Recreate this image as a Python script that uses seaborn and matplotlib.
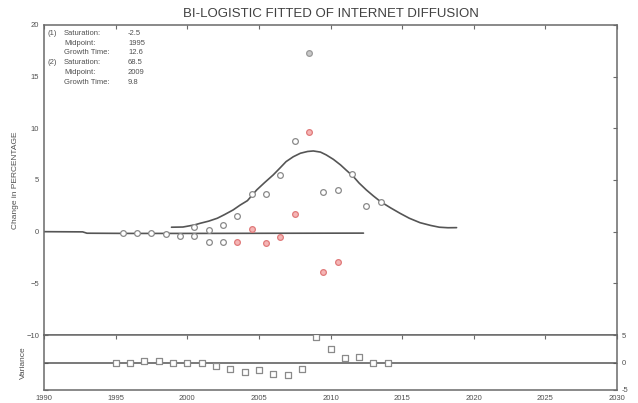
import matplotlib
matplotlib.use("Agg")
import matplotlib.pyplot as plt
import seaborn as sns
import pandas as pd

# ---------------- data ----------------
upper_years = [2000.5, 2001.5, 2002.5, 2003.5, 2004.5, 2005.5, 2006.5, 2007.5,
               2008.5, 2009.5, 2010.5, 2011.5, 2012.5, 2013.5]
upper_vals = [0.48, 0.16, 0.65, 1.55, 3.65, 3.65, 5.49, 8.81,
              17.33, 3.81, 4.04, 5.59, 2.52, 2.90]
upper_flag = ["open"] * 8 + ["filled"] + ["open"] * 5

lower_years = [1995.5, 1996.5, 1997.5, 1998.5, 1999.5, 2000.5, 2001.5, 2002.5]
lower_vals = [-0.13, -0.13, -0.17, -0.25, -0.39, -0.39, -0.97, -0.97]

red_years = [2003.5, 2004.5, 2005.5, 2006.5, 2007.5, 2008.5, 2009.5, 2010.5]
red_vals = [-0.97, 0.23, -1.12, -0.54, 1.71, 9.62, -3.87, -2.90]

fit2_years = [1998.9, 1999.7, 2000.5, 2000.9, 2001.5, 2002.1, 2002.6, 2003.2,
              2003.7, 2004.2, 2004.85, 2005.4, 2006.0, 2006.5, 2006.9, 2007.4,
              2007.9, 2008.4, 2008.8, 2009.3, 2009.7, 2010.2, 2010.7, 2011.1,
              2011.6, 2012.0, 2012.5, 2013.0, 2013.5, 2014.2, 2014.85, 2015.5,
              2016.25, 2017.0, 2017.6, 2018.2, 2018.8]
fit2_vals = [0.43, 0.45, 0.65, 0.81, 1.02, 1.30, 1.65, 2.10,
             2.58, 3.00, 4.04, 4.75, 5.49, 6.20, 6.78, 7.25,
             7.59, 7.76, 7.81, 7.70, 7.43, 7.00, 6.46, 5.95,
             5.33, 4.70, 4.04, 3.45, 2.90, 2.30, 1.78, 1.30,
             0.87, 0.60, 0.43, 0.38, 0.39]

fit1_years = [1990.0, 1992.7, 1993.0, 1996.0, 2000.0, 2004.0, 2008.0, 2012.3]
fit1_vals = [0.0, -0.02, -0.15, -0.17, -0.17, -0.16, -0.15, -0.14]

resid_years = list(range(1995, 2015))
resid_vals = [-0.07, -0.07, 0.24, 0.24, -0.07, -0.07, -0.07, -0.67, -1.27, -1.70,
              -1.40, -2.00, -2.36, -1.10, 4.60, 2.54, 0.73, 0.91, -0.07, -0.13]

x_ticks = [1990, 1995, 2000, 2005, 2010, 2015, 2020, 2025, 2030]
main_yticks = [-10, -5, 0, 5, 10, 15, 20]
resid_yticks = [-5, 0, 5]
resid_ytick_labels = ["-5", "0", "5"]

title = "BI-LOGISTIC FITTED OF INTERNET DIFFUSION"
params_labels = ["(1)", "", "", "(2)", "", ""]
params_names = ["Saturation:", "Midpoint:", "Growth Time:",
                "Saturation:", "Midpoint:", "Growth Time:"]
params_values = ["-2.5", "1995", "12.6", "68.5", "2009", "9.8"]

# ---------------- style ----------------
sns.set_style("white")
plt.rcParams["font.family"] = ["Liberation Sans", "DejaVu Sans"]
spine_c = "#6a6a6a"
text_c = "#505050"
pt_c = "#8a8a8a"

fig = plt.figure(figsize=(6.38, 4.03), dpi=100)
W, H = 638, 403
L, R = 44, 617
ax = fig.add_axes([L / W, 1 - 335 / H, (R - L) / W, (335 - 25) / H])
axr = fig.add_axes([L / W, 1 - 390 / H, (R - L) / W, (390 - 335) / H], sharex=ax)

# fitted curves
fit1 = pd.DataFrame({"year": fit1_years, "val": fit1_vals})
fit2 = pd.DataFrame({"year": fit2_years, "val": fit2_vals})
sns.lineplot(data=fit1, x="year", y="val", ax=ax, color="#555555", lw=1.2,
             sort=False, estimator=None)
sns.lineplot(data=fit2, x="year", y="val", ax=ax, color="#555555", lw=1.2,
             sort=False, estimator=None)

# data points
ms = 17
up = pd.DataFrame({"year": upper_years, "val": upper_vals, "flag": upper_flag})
sns.scatterplot(data=up[up.flag == "open"], x="year", y="val", ax=ax, marker="o",
                s=ms, facecolor="white", edgecolor=pt_c, linewidth=0.9, zorder=3)
sns.scatterplot(data=up[up.flag == "filled"], x="year", y="val", ax=ax, marker="o",
                s=ms, facecolor="#c8c8c8", edgecolor="#9a9a9a", linewidth=0.9, zorder=3)
lo = pd.DataFrame({"year": lower_years, "val": lower_vals})
sns.scatterplot(data=lo, x="year", y="val", ax=ax, marker="o", s=ms,
                facecolor="white", edgecolor=pt_c, linewidth=0.9, zorder=3)
rd = pd.DataFrame({"year": red_years, "val": red_vals})
sns.scatterplot(data=rd, x="year", y="val", ax=ax, marker="o", s=ms,
                facecolor="#f5b5b5", edgecolor="#e07a7a", linewidth=0.9, zorder=3)

ax.set_xlim(1990, 2030)
ax.set_ylim(-10, 20)
ax.set_yticks(main_yticks)
ax.set_xticks(x_ticks)
ax.set_xlabel("")
ax.set_ylabel("Change in PERCENTAGE", fontsize=6, color=text_c, labelpad=5)
ax.tick_params(axis="both", direction="in", length=3, width=0.8, colors=spine_c,
               labelsize=5.5, labelcolor=text_c, top=True, right=True,
               labelbottom=False)
for s in ax.spines.values():
    s.set_color(spine_c)
    s.set_linewidth(1.1)

ax.set_title(title, fontsize=9.5, color="#404040", pad=6)

# parameter text block
row_y = [33.3, 43.3, 52.7, 62.7, 72.7, 82.7]
for lab, nm, v, yy in zip(params_labels, params_names, params_values, row_y):
    fy = 1 - yy / H
    fig.text(48 / W, fy, lab, fontsize=5.5, color=text_c, va="center")
    fig.text(64 / W, fy, nm, fontsize=5.5, color=text_c, va="center")
    fig.text(128 / W, fy, v, fontsize=5.5, color=text_c, va="center")

# residual panel
axr.axhline(0, color="#555555", lw=1.1, zorder=1)
rs = pd.DataFrame({"year": resid_years, "val": resid_vals})
sns.scatterplot(data=rs, x="year", y="val", ax=axr, marker="s", s=18,
                facecolor="white", edgecolor=pt_c, linewidth=0.9, zorder=3)
axr.set_ylim(-5, 5)
axr.set_yticks(resid_yticks)
axr.set_yticklabels(resid_ytick_labels)
axr.set_xticks(x_ticks)
axr.set_xlabel("")
axr.set_ylabel("Variance", fontsize=6, color=text_c, labelpad=12)
axr.yaxis.tick_right()
axr.tick_params(axis="both", direction="in", length=3, width=0.8, colors=spine_c,
                labelsize=5.5, labelcolor=text_c, top=True, left=True, right=True,
                labelleft=False, labelright=True)
axr.yaxis.set_label_position("left")
for s in axr.spines.values():
    s.set_color(spine_c)
    s.set_linewidth(1.1)

fig.savefig("out.png", dpi=100)
